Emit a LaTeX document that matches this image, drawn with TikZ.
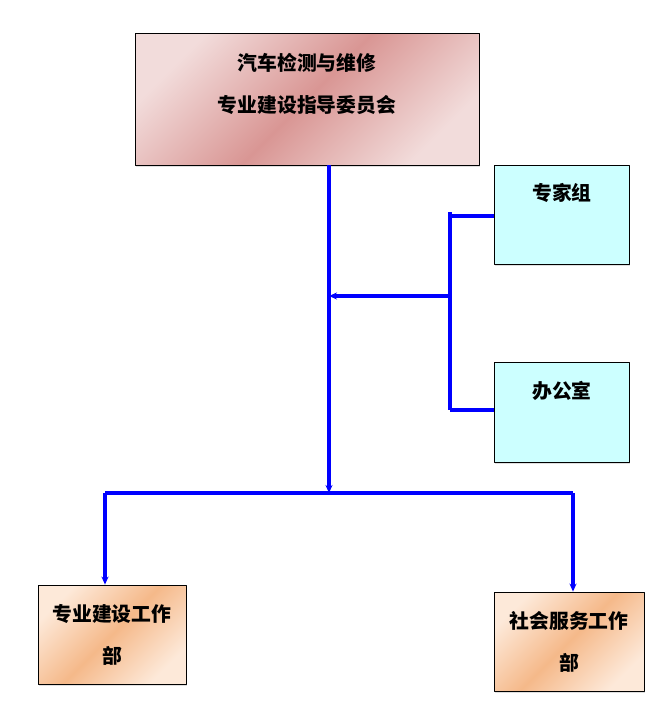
\documentclass[tikz,border=0pt]{standalone}
\usepackage{fontspec}
\newfontfamily\cjk{Noto Sans CJK SC}
\usetikzlibrary{arrows.meta,positioning,shadows}
\definecolor{roseL}{HTML}{F2DCDB}
\definecolor{roseD}{HTML}{D99694}
\definecolor{cyanL}{HTML}{CCFFFF}
\definecolor{peachL}{HTML}{FDE9D9}
\definecolor{peachD}{HTML}{F5B98A}
\begin{document}
\begin{tikzpicture}[x=1pt,y=-1pt,>={Stealth[length=8pt,width=7pt]}, line join=round,
	box/.style={draw=black, line width=0.8pt, inner sep=0pt,
		drop shadow={shadow xshift=1.2pt, shadow yshift=-1.5pt, opacity=0.25}},
	rosebox/.style={box, left color=roseL, right color=roseL, middle color=roseD, shading angle=45},
	cyanbox/.style={box, fill=cyanL},
	peachbox/.style={box, left color=peachL, right color=peachL, middle color=peachD, shading angle=45},
	lbl/.style={font=\cjk\bfseries\fontsize{19.8}{42}\selectfont, align=center, inner sep=0pt},
	link/.style={draw=blue, line width=3.2pt}]
	\useasboundingbox (0,0) rectangle (659,724);
	% boxes
	\node[rosebox, minimum width=344pt, minimum height=132pt] (board) at (307,99) {};
	\node[cyanbox, minimum width=135pt, minimum height=99pt] (expert) at (561.5,214.5) {};
	\node[cyanbox, minimum width=135pt, minimum height=100pt] (office) at (561.5,412) {};
	\node[peachbox, minimum width=148pt, minimum height=99pt] (build) at (112,634.5) {};
	\node[peachbox, minimum width=150pt, minimum height=99pt] (service) at (569,641.5) {};
	% texts
	\node[lbl] (boardtxt) at (307,84) {汽车检测与维修\\专业建设指导委员会};
	\node[lbl] (experttxt) at (562,193) {专家组};
	\node[lbl] (officetxt) at (562,391) {办公室};
	\node[lbl] (buildtxt) at (112,634.5) {专业建设工作\\部};
	\node[lbl] (servicetxt) at (569,642) {社会服务工作\\部};
	% junctions
	\coordinate (hub) at (329,493);
	\coordinate (hubL) at (105,493);
	\coordinate (hubR) at (573,493);
	\coordinate (side) at (450,296);
	\coordinate (sideT) at (450,212);
	\coordinate (sideB) at (450,410);
	% links
	\draw[link,->] (board.south -| hub)--(hub);
	\draw[link] (hubL)--(hubR);
	\draw[link,->] (hubL)--(build.north -| hubL);
	\draw[link,->] (hubR)--(service.north -| hubR);
	\draw[link] (sideT)--(sideB);
	\draw[link] (sideT |- 0,216)--(expert.west |- 0,216);
	\draw[link] (sideB)--(office.west |- sideB);
	\draw[link,->] (side)--(hub |- side);
\end{tikzpicture}
\end{document}
